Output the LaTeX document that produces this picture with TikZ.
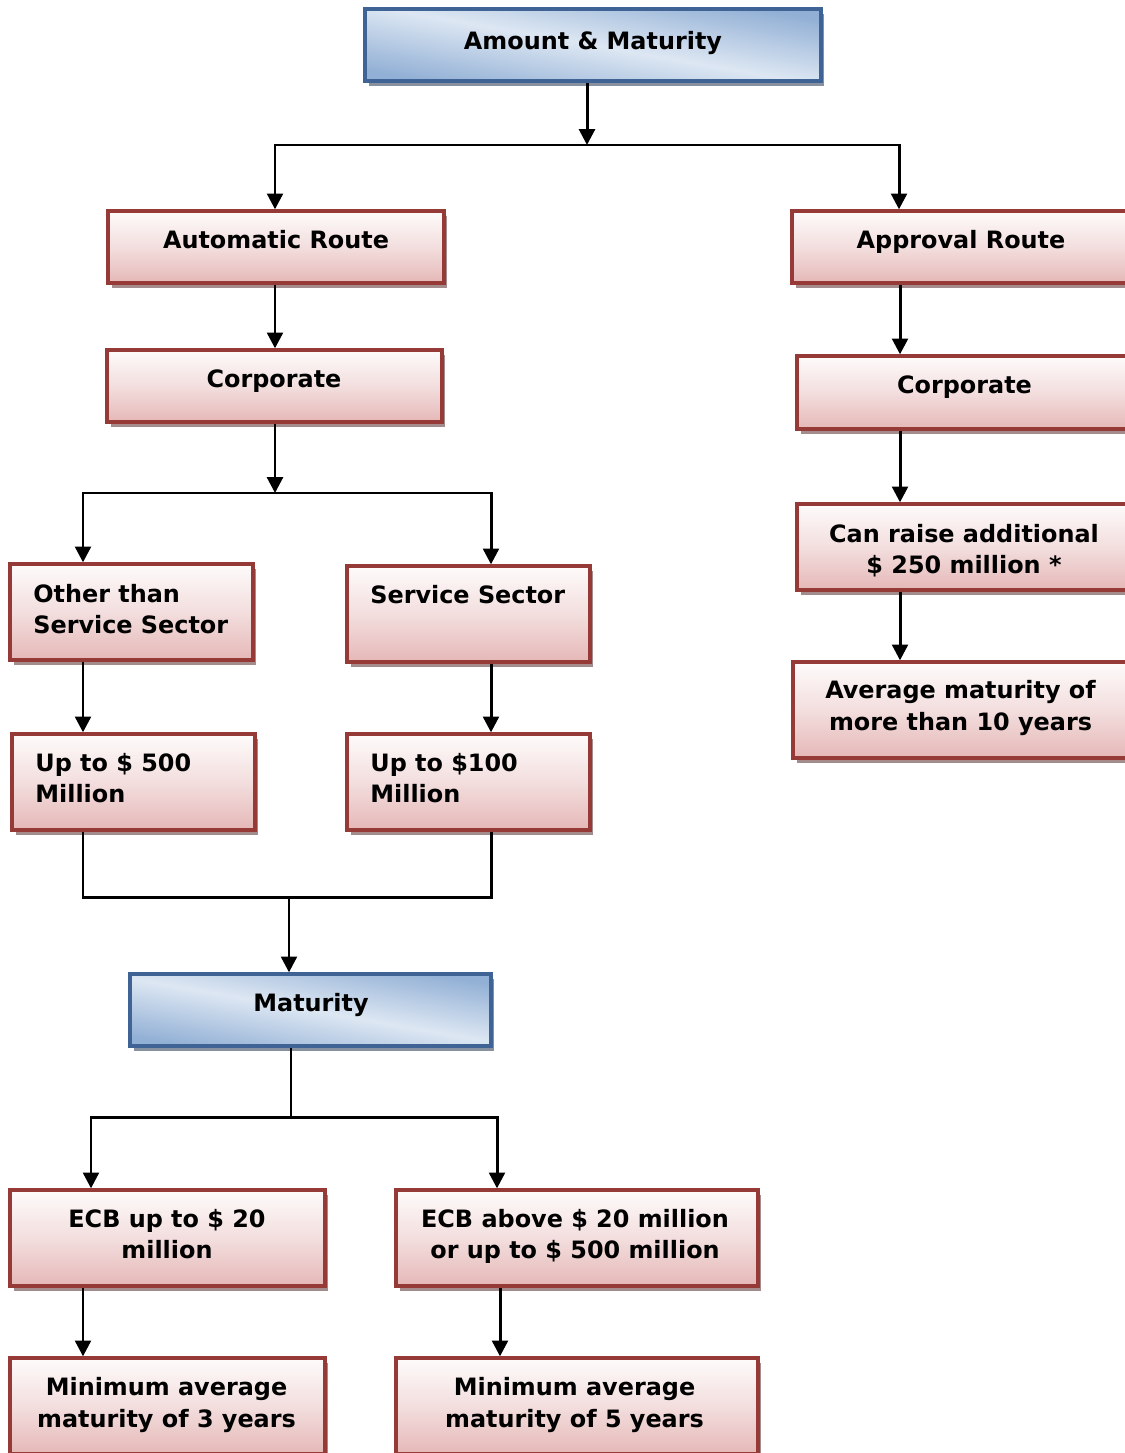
\documentclass[tikz,border=0pt]{standalone}
\usepackage{fontspec}
\setmainfont{DejaVu Sans}
\usetikzlibrary{positioning, arrows.meta, shadows}

\definecolor{redline}{RGB}{150,58,56}
\definecolor{redtop}{RGB}{254,251,251}
\definecolor{redmid}{RGB}{243,222,222}
\definecolor{redbot}{RGB}{229,184,183}
\definecolor{blueline}{RGB}{62,99,148}
\definecolor{bluelight}{RGB}{221,231,243}
\definecolor{bluedark}{RGB}{146,176,213}
\definecolor{redshadow}{RGB}{165,140,140}
\definecolor{blueshadow}{RGB}{135,145,160}

\begin{document}
\begin{tikzpicture}[
    x=0.02cm, y=-0.02cm,
    redbox/.style={rectangle, draw=redline, line width=1.9pt,
                   top color=redtop, bottom color=redbot, middle color=redmid,
                   drop shadow={shadow xshift=2pt, shadow yshift=-3pt, fill=redshadow, opacity=1}},
    bluebox/.style={rectangle, draw=blueline, line width=1.9pt,
                    top color=bluedark, bottom color=bluedark, middle color=bluelight, shading angle=350,
                    drop shadow={shadow xshift=2pt, shadow yshift=-3pt, fill=blueshadow, opacity=1}},
    boxtext/.style={font=\fontsize{13.6}{18}\selectfont\bfseries, inner sep=0pt, align=center},
    lefttext/.style={boxtext, align=left},
    arrow/.style={-{Triangle[length=9pt, width=9pt]}, line width=1.7pt},
    link/.style={line width=1.7pt}
]

    \path[use as bounding box] (0,0) rectangle (1125,1453);
    \clip (0,0) rectangle (1125,1453);

    % Top
    \node[bluebox, minimum width=9.12cm, minimum height=1.44cm] (amt) at (593,45) {};
    \node[boxtext, anchor=base] (amtT) at (593,50) {Amount \& Maturity};

    % Automatic route
    \node[redbox, minimum width=6.72cm, minimum height=1.44cm] (auto) at (276,247) {};
    \node[boxtext, anchor=base] (autoT) at (276,248.3) {Automatic Route};
    \node[redbox, minimum width=6.70cm, minimum height=1.44cm] (corpL) at (274.5,386) {};
    \node[boxtext, anchor=base] (corpLT) at (274,387.3) {Corporate};

    \node[redbox, minimum width=4.86cm, minimum height=1.92cm] (other) at (131.5,612) {};
    \node[lefttext, anchor=north west] (otherT) at (33,583.7) {Other than\\Service Sector};
    \node[redbox, minimum width=4.86cm, minimum height=1.92cm] (serv) at (468.5,614) {};
    \node[lefttext, anchor=base west] (servT) at (370,603.3) {Service Sector};

    \node[redbox, minimum width=4.86cm, minimum height=1.92cm] (up500) at (133.5,782) {};
    \node[lefttext, anchor=north west] (up500T) at (35,752.7) {Up to \$ 500\\Million};
    \node[redbox, minimum width=4.86cm, minimum height=1.92cm] (up100) at (468.5,782) {};
    \node[lefttext, anchor=north west] (up100T) at (370,752.7) {Up to \$100\\Million};

    % Maturity
    \node[bluebox, minimum width=7.22cm, minimum height=1.44cm] (mat) at (310.5,1010) {};
    \node[boxtext, anchor=base] (matT) at (311,1011) {Maturity};

    \node[redbox, minimum width=6.30cm, minimum height=1.92cm] (ecb20) at (167.5,1238) {};
    \node[boxtext, anchor=north] (ecb20T) at (167,1208.7) {ECB up to \$ 20\\million};
    \node[redbox, minimum width=7.24cm, minimum height=1.92cm] (ecb500) at (577,1238) {};
    \node[boxtext, anchor=north] (ecb500T) at (575,1208.7) {ECB above \$ 20 million\\or up to \$ 500 million};

    \node[redbox, minimum width=6.30cm, minimum height=1.92cm] (min3) at (167.5,1406) {};
    \node[boxtext, anchor=north] (min3T) at (166.5,1377) {Minimum average\\maturity of 3 years};
    \node[redbox, minimum width=7.24cm, minimum height=1.92cm] (min5) at (577,1406) {};
    \node[boxtext, anchor=north] (min5T) at (574.5,1377) {Minimum average\\maturity of 5 years};

    % Approval route
    \node[redbox, minimum width=6.72cm, minimum height=1.44cm] (appr) at (960,247) {};
    \node[boxtext, anchor=base] (apprT) at (961,248.3) {Approval Route};
    \node[redbox, minimum width=6.72cm, minimum height=1.46cm] (corpR) at (965,392.5) {};
    \node[boxtext, anchor=base] (corpRT) at (964.5,393.3) {Corporate};
    \node[redbox, minimum width=6.72cm, minimum height=1.72cm] (raise) at (965,547) {};
    \node[boxtext, anchor=north] (raiseT) at (964,523.7) {Can raise additional\\\$ 250 million *};
    \node[redbox, minimum width=6.72cm, minimum height=1.92cm] (avg) at (961,710) {};
    \node[boxtext, anchor=north] (avgT) at (960.5,680.3) {Average maturity of\\more than 10 years};

    % Junctions
    \coordinate (jTop) at (587,145);
    \coordinate (bAuto) at (275,145);
    \coordinate (bAppr) at (899,145);
    \coordinate (jCorp) at (275,493);
    \coordinate (bOther) at (83,493);
    \coordinate (bServ) at (491,493);
    \coordinate (jJoin) at (289,897);
    \coordinate (jMat) at (291,1117);
    \coordinate (bEcbA) at (91,1117);
    \coordinate (bEcbB) at (497,1117);
    \coordinate (cMinA) at (83,1320);
    \coordinate (cMinB) at (500,1320);
    \coordinate (cRight) at (900,300);

    % Arrows
    \draw[arrow] (jTop |- amt.south) -- (jTop);
    \draw[arrow] (jTop) -| (bAuto |- auto.north);
    \draw[arrow] (jTop) -| (bAppr |- appr.north);

    \draw[arrow] (auto.south -| bAuto) -- (corpL.north -| bAuto);
    \draw[arrow] (corpL.south -| jCorp) -- (jCorp);
    \draw[arrow] (jCorp) -| (bOther |- other.north);
    \draw[arrow] (jCorp) -| (bServ |- serv.north);
    \draw[arrow] (other.south -| bOther) -- (up500.north -| bOther);
    \draw[arrow] (serv.south -| bServ) -- (up100.north -| bServ);

    \draw[link] (up500.south -| bOther) |- (jJoin) -| (up100.south -| bServ);
    \draw[arrow] (jJoin) -- (jJoin |- mat.north);

    \draw[link] (mat.south -| jMat) -- (jMat);
    \draw[arrow] (jMat) -| (bEcbA |- ecb20.north);
    \draw[arrow] (jMat) -| (bEcbB |- ecb500.north);
    \draw[arrow] (ecb20.south -| cMinA) -- (min3.north -| cMinA);
    \draw[arrow] (ecb500.south -| cMinB) -- (min5.north -| cMinB);

    \draw[arrow] (appr.south -| cRight) -- (corpR.north -| cRight);
    \draw[arrow] (corpR.south -| cRight) -- (raise.north -| cRight);
    \draw[arrow] (raise.south -| cRight) -- (avg.north -| cRight);

\end{tikzpicture}
\end{document}
